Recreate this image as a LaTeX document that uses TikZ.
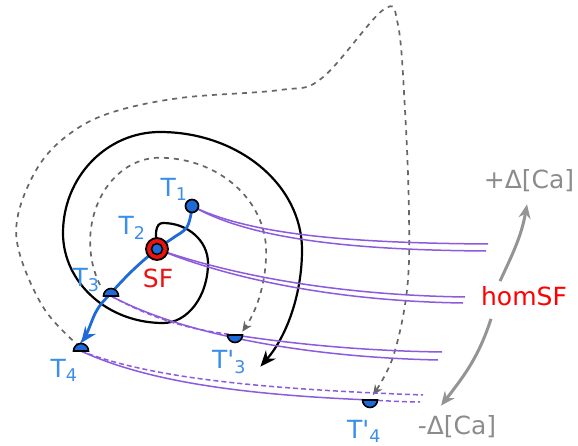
\documentclass[tikz,border=0pt]{standalone}
\usepackage{fontspec}
\setmainfont{DejaVu Sans}
\usepackage{tikz}
\usetikzlibrary{arrows.meta, calc, positioning}
\definecolor{tblue}{HTML}{3B8EEA}
\definecolor{pathblue}{HTML}{1E6AD6}
\definecolor{fibre}{HTML}{8C5ADC}
\definecolor{sfred}{HTML}{EE1111}

\tikzset{
  trail/.style={black!60, line width=1.7pt, dash pattern=on 5pt off 5pt},
  fibreline/.style={fibre, line width=1.5pt},
  fibredash/.style={fibre, line width=1.5pt, dash pattern=on 5pt off 3pt},
  tlabel/.style={text=tblue, inner sep=0pt, font=\fontsize{25}{28}\selectfont},
  calabel/.style={text=black!45, inner sep=0pt, font=\fontsize{25}{28}\selectfont},
  grayarrow/.style={black!42, line width=3pt, -{Stealth[length=14pt,width=12pt]}},
}
\newcommand{\halfup}[1]{\filldraw[fill=pathblue, draw=black, line width=1.6pt] ($(#1)+(-7.5,0)$) arc (180:0:7.5pt) -- cycle;}
\newcommand{\halfdown}[1]{\filldraw[fill=pathblue, draw=black, line width=1.6pt] ($(#1)+(-7.5,0)$) arc (180:360:7.5pt) -- cycle;}

\begin{document}
\begin{tikzpicture}[x=1pt,y=1pt]
  \useasboundingbox (0,0) rectangle (578,445);
  % positions of the tips
  \coordinate (SF) at (157,196);
  \coordinate (T1) at (192,239);
  \coordinate (T3) at (111,149);
  \coordinate (T4) at (81,94);
  \coordinate (T3p) at (235,110);
  \coordinate (T4p) at (370,45);
  % free ends of the fibres
  \coordinate (e1a) at (488,201);
  \coordinate (e1b) at (486,194);
  \coordinate (e2a) at (465,148);
  \coordinate (e2b) at (463,142);
  \coordinate (e3a) at (442,93);
  \coordinate (e3b) at (438,85);
  \coordinate (e4a) at (423,50);
  \coordinate (e4b) at (420,43);

  % dashed trails
  \draw[trail, -{Stealth[length=10pt,width=9pt]}] (100,160)
    arc[start angle=211, end angle=90, x radius=69, y radius=84]
    arc[start angle=90, end angle=0, x radius=107, y radius=94]
    arc[start angle=0, end angle=-39, x radius=107, y radius=127];
  \draw[trail, -{Stealth[length=10pt,width=9pt]}] plot[smooth, tension=0.6] coordinates {(80,98) (45,135) (20,190) (18,230) (38,278) (68,310) (110,332) (180,347) (280,355) (322,367) (383,435) (398,420) (405,335) (409,231) (407,155) (393,88) (373,50)};

  % spiral
  \draw[line width=2.2pt, -{Stealth[length=16pt,width=13pt]}] (SF) .. controls (155,210) and (155,222) .. (163,222)
    arc[start angle=90, end angle=0, x radius=45, y radius=40]
    arc[start angle=0, end angle=-90, x radius=45, y radius=60]
    arc[start angle=-90, end angle=-180, x radius=100, y radius=90]
    arc[start angle=180, end angle=90, x radius=97, y radius=101]
    arc[start angle=90, end angle=0, x radius=142, y radius=118]
    arc[start angle=0, end angle=-45, x radius=142, y radius=165];

  % fibres
  \draw[fibreline] (T1) .. controls (250,210) and (350,202) .. (e1a);
  \draw[fibreline] (T1) .. controls (250,206) and (350,195) .. (e1b);
  \draw[fibreline] (SF) .. controls (225,172) and (330,150) .. (e2a);
  \draw[fibreline] (SF) .. controls (225,168) and (330,144) .. (e2b);
  \draw[fibredash] (T3) .. controls (160,122) and (200,114) .. (T3p);
  \draw[fibreline] (T3p) .. controls (300,100) and (370,94) .. (e3a);
  \draw[fibreline] (T3) .. controls (180,112) and (300,88) .. (e3b);
  \draw[fibreline] (T4) .. controls (150,62) and (250,50) .. (T4p);
  \draw[fibredash] (T4) .. controls (150,67) and (260,56) .. (e4a);
  \draw[fibredash] (T4p) .. controls (390,44) and (405,43) .. (e4b);

  % tip path
  \draw[pathblue, line width=2.8pt, -{Stealth[length=16pt,width=13pt]}] plot[smooth, tension=0.6] coordinates {(192,237) (187,218) (173,207) (157,196) (133,175) (111,152) (97,135) (87,112) (81,102)};

  % markers
  \halfup{T3}
  \halfup{T4}
  \halfdown{T3p}
  \halfdown{T4p}
  \node[circle, fill=pathblue, draw=black, line width=1.7pt, minimum size=13pt, inner sep=0pt] (n1) at (T1) {};
  \node[circle, fill=sfred, draw=black, line width=1.8pt, minimum size=22pt, inner sep=0pt] (nsf) at (SF) {};
  \node[circle, fill=pathblue, draw=black, line width=1.5pt, minimum size=11pt, inner sep=0pt] (n2) at (SF) {};

  % labels
  \node[tlabel] (lT1) at (174,256) {T\textsubscript{1}};
  \node[tlabel] (lT2) at (132,217) {T\textsubscript{2}};
  \node[tlabel] (lT3) at (86,165) {T\textsubscript{3}};
  \node[tlabel] (lT4) at (64,75) {T\textsubscript{4}};
  \node[tlabel] (lT3p) at (229,83) {T\textquotesingle\textsubscript{3}};
  \node[tlabel] (lT4p) at (364,14) {T\textquotesingle\textsubscript{4}};
  \node[text=sfred, inner sep=0pt, font=\fontsize{25}{28}\selectfont] (lSF) at (158,167) {SF};
  \node[text=red, inner sep=0pt, font=\fontsize{25}{28}\selectfont] (homSF) at (524,149) {homSF};
  \node[calabel] (plusCa) at (529,264) {+Δ[Ca]};
  \node[calabel] (minusCa) at (457,18) {-Δ[Ca]};

  \draw[grayarrow] ([xshift=-24pt,yshift=5pt]homSF.north) to[out=65,in=-100] ([xshift=-2pt,yshift=-12pt]plusCa.south);
  \draw[grayarrow] ([xshift=-33pt,yshift=-13pt]homSF.south) to[out=-108,in=52] ([xshift=-16pt,yshift=10pt]minusCa.north);
\end{tikzpicture}
\end{document}
